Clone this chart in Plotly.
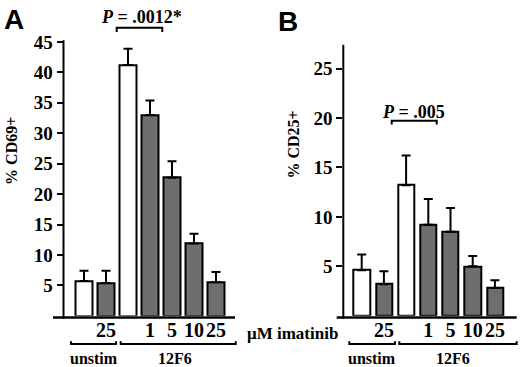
import plotly.graph_objects as go

W, H = 520, 367

# ---- data ----
tick_labels = ["", "25", "", "1", "5", "10", "25"]
fill_kind = ["white", "gray", "white", "gray", "gray", "gray", "gray"]

cd69_mean = [5.7, 5.4, 41.2, 33.0, 22.7, 11.9, 5.5]
cd69_err = [1.7, 2.0, 2.7, 2.4, 2.7, 1.6, 1.7]

cd25_mean = [4.6, 3.2, 13.2, 9.2, 8.5, 5.0, 2.8]
cd25_err = [1.6, 1.3, 3.0, 2.6, 2.4, 1.05, 0.8]

cd69_ticks = [5, 10, 15, 20, 25, 30, 35, 40, 45]
cd25_ticks = [5, 10, 15, 20, 25]

GRAY = "#6e6e6e"
SERIF = "Liberation Serif"
SANS = "Liberation Sans"


def px(x):
    return x / W


def py(y):
    return 1 - y / H


def b(s):
    return f"<b>{s}</b>" if s != "" else s


colors = ["white" if k == "white" else GRAY for k in fill_kind]
xs = list(range(len(tick_labels)))

fig = go.Figure()


def add_bars(vals, errs, xa, ya):
    fig.add_trace(go.Bar(
        x=xs, y=vals, xaxis=xa, yaxis=ya, width=0.73,
        marker=dict(color=colors, line=dict(color="black", width=2)),
        error_y=dict(type="data", symmetric=False, array=errs,
                     arrayminus=[0] * len(errs), color="black",
                     thickness=2, width=4.5),
        showlegend=False, hoverinfo="skip",
    ))


add_bars(cd69_mean, cd69_err, "x", "y")
add_bars(cd25_mean, cd25_err, "x2", "y2")

# geometry (pixels)
A_left, A_right, A_c0, A_step = 63.5, 235.0, 84.0, 22.0
B_left, B_right, B_c0, B_step = 343.3, 516.7, 361.7, 22.2
ZERO = 314.5
A_top, B_top = 32.0, 36.7

tickfont = dict(family=SERIF, size=19, color="black")
xtickfont = dict(family=SERIF, size=20, color="black")

common_x = dict(showgrid=False, zeroline=False, showline=False, ticks="",
                tickmode="array", tickvals=xs, tickangle=0,
                ticktext=[b(t) for t in tick_labels],
                tickfont=xtickfont, fixedrange=True)
common_y = dict(showgrid=False, zeroline=False, showline=False, ticks="outside",
                ticklen=6, tickwidth=2, tickcolor="black", tickfont=tickfont,
                tickmode="array", tickangle=0)

fig.update_layout(
    width=W, height=H, autosize=False,
    margin=dict(l=0, r=0, t=0, b=0),
    paper_bgcolor="white", plot_bgcolor="white",
    bargap=0,
    xaxis=dict(domain=[px(A_left), px(A_right)],
               range=[(A_left - A_c0) / A_step, (A_right - A_c0) / A_step],
               anchor="y", **common_x),
    yaxis=dict(domain=[py(ZERO), py(A_top)],
               range=[0, 45 * (ZERO - A_top) / (ZERO - 33.8)],
               anchor="x", tickvals=cd69_ticks,
               ticktext=[b(t) for t in cd69_ticks], **common_y),
    xaxis2=dict(domain=[px(B_left), px(B_right)],
                range=[(B_left - B_c0) / B_step, (B_right - B_c0) / B_step],
                anchor="y2", **common_x),
    yaxis2=dict(domain=[py(ZERO), py(B_top)],
                range=[0, 25 * (ZERO - B_top) / (ZERO - 61.0)],
                anchor="x2", tickvals=cd25_ticks,
                ticktext=[b(t) for t in cd25_ticks], **common_y),
)

shapes = []


def line(x0, y0, x1, y1, w=2):
    shapes.append(dict(type="line", xref="paper", yref="paper",
                       x0=px(x0), y0=py(y0), x1=px(x1), y1=py(y1),
                       line=dict(color="black", width=w)))


def path(pts, w=2):
    d = "M " + " L ".join(f"{px(x)},{py(y)}" for x, y in pts)
    shapes.append(dict(type="path", xref="paper", yref="paper", path=d,
                       line=dict(color="black", width=w)))


# axis lines
line(53, 316.3, 235, 316.3, 2.5)
line(A_left, A_top, A_left, 317.5, 2)
line(336.7, 316.3, 516.7, 316.3, 2.5)
line(B_left, B_top, B_left, 317.5, 2)

# significance brackets
path([(116.7, 23.5), (116.7, 19.3), (162.3, 19.3), (162.3, 23.5)])
path([(391.7, 118.5), (391.7, 114.5), (436.7, 114.5), (436.7, 118.5)])

# group brackets
for a, c in [(71, 116), (120.7, 235.7), (349.3, 395), (399.3, 516.7)]:
    path([(a, 340.5), (a, 343.3), (c, 343.3), (c, 340.5)])

fig.update_layout(shapes=shapes)

ann = []


def text(x, y, s, size, family=SERIF, angle=0):
    ann.append(dict(x=px(x), y=py(y), xref="paper", yref="paper", text=b(s),
                    showarrow=False, xanchor="center", yanchor="middle",
                    textangle=angle,
                    font=dict(family=family, size=size, color="black")))


text(13.5, 11, "A", 28, SANS)
text(288, 13, "B", 28, SANS)
text(141, 8, "<i>P</i> = .0012*", 18)
text(413, 106, "<i>P</i> = .005", 18)
text(94, 358, "unstim", 16)
text(175, 358, "12F6", 16)
text(371.7, 358, "unstim", 16)
text(452.5, 358, "12F6", 16)
text(292, 333, "μM imatinib", 17)
text(11.5, 146, "% CD69+", 16, angle=-90)
text(294, 139, "% CD25+", 16, angle=-90)

fig.update_layout(annotations=ann)

fig.write_html("out.html", config={"displayModeBar": False},
               post_script="document.body.style.margin='0';")
